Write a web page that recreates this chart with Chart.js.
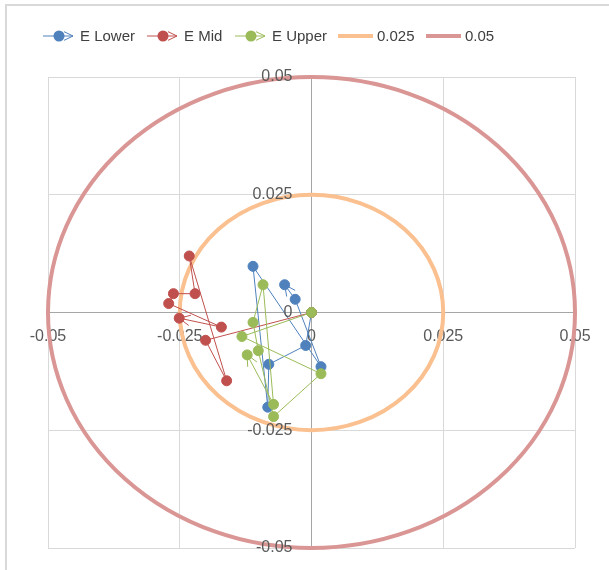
<!DOCTYPE html>
<html>
<head>
<meta charset="utf-8">
<script src="https://cdn.jsdelivr.net/npm/chart.js@4/dist/chart.umd.min.js"></script>
<style>
  html, body { margin: 0; padding: 0; background: #fff; }
  canvas { display: block; }
</style>
</head>
<body>
<canvas id="chart" width="609" height="570"></canvas>
<script>
"use strict";

// tick values shared by both axes
const axisTicks = [-0.05, -0.025, 0, 0.025, 0.05];

// E Lower
const lowerX = [0, -0.0011, -0.0081, -0.0083, -0.0111, 0.0018, -0.0031, -0.0051];
const lowerY = [0, -0.0070, -0.0110, -0.0201, 0.0098, -0.0115, 0.0028, 0.0059];
// E Mid
const midX = [0, -0.0201, -0.0161, -0.0232, -0.0221, -0.0262, -0.0271, -0.0171, -0.0251];
const midY = [0, -0.0059, -0.0145, 0.0120, 0.0040, 0.0040, 0.0019, -0.0031, -0.0012];
// E Upper
const upperX = [0, -0.0132, 0.0018, -0.0072, -0.0101, -0.0111, -0.0092, -0.0072, -0.0122];
const upperY = [0, -0.0051, -0.0130, -0.0221, -0.0081, -0.0021, 0.0059, -0.0195, -0.0090];

// reference rings
const ringLabels = ["0.025", "0.05"];
const ringRadii = [0.025, 0.05];

const seriesLabels = ["E Lower", "E Mid", "E Upper"];
const seriesColors = ["#4F81BD", "#C0504D", "#9BBB59"];
const ringColors = ["#FAC090", "#D99694"];

const FONT = '"Liberation Sans", Arial, sans-serif';

function toPoints(xs, ys) {
    return xs.map(function (x, i) { return { x: x, y: ys[i] }; });
}

function series(label, color, xs, ys, order) {
    return {
        label: label,
        data: toPoints(xs, ys),
        order: order, // later series are painted on top, as in the original
        showLine: true,
        borderColor: color,
        backgroundColor: color,
        borderWidth: 1,
        pointRadius: 5,
        pointBorderWidth: 1,
        pointBorderColor: color,
        pointBackgroundColor: color,
        pointHoverRadius: 5
    };
}

// circles of constant radius, drawn through the scales under the series
const ringsPlugin = {
    id: "rings",
    beforeDatasetsDraw: function (chart) {
        const ctx = chart.ctx;
        const xs = chart.scales.x, ys = chart.scales.y;
        const cx = xs.getPixelForValue(0), cy = ys.getPixelForValue(0);
        ctx.save();
        ringRadii.forEach(function (r, i) {
            const rx = xs.getPixelForValue(r) - cx;
            const ry = cy - ys.getPixelForValue(r);
            ctx.beginPath();
            ctx.ellipse(cx, cy, rx, ry, 0, 0, Math.PI * 2);
            ctx.strokeStyle = ringColors[i];
            ctx.lineWidth = 4;
            ctx.stroke();
        });
        ctx.restore();
    }
};

function drawArrow(ctx, tipX, tipY, ang, len, spread) {
    ctx.beginPath();
    ctx.moveTo(tipX - len * Math.cos(ang - spread), tipY - len * Math.sin(ang - spread));
    ctx.lineTo(tipX, tipY);
    ctx.lineTo(tipX - len * Math.cos(ang + spread), tipY - len * Math.sin(ang + spread));
    ctx.stroke();
}

// open arrow head at the end of every series line
const arrowPlugin = {
    id: "arrows",
    afterDatasetsDraw: function (chart) {
        const ctx = chart.ctx;
        ctx.save();
        chart.data.datasets.forEach(function (ds, i) {
            const pts = chart.getDatasetMeta(i).data;
            if (pts.length < 2) return;
            const a = pts[pts.length - 2], b = pts[pts.length - 1];
            const ang = Math.atan2(b.y - a.y, b.x - a.x);
            ctx.strokeStyle = ds.borderColor;
            ctx.lineWidth = 1;
            drawArrow(ctx, b.x, b.y, ang, 12, 0.45);
        });

        // y tick labels sit left of the vertical axis, which crosses at x = 0
        const xs = chart.scales.x, ys = chart.scales.y;
        const right = xs.getPixelForValue(0) - 19;
        ctx.font = "16px " + FONT;
        ctx.fillStyle = "#595959";
        ctx.textAlign = "right";
        ctx.textBaseline = "middle";
        ys.ticks.forEach(function (t) {
            ctx.fillText(String(t.value), right, ys.getPixelForValue(t.value));
        });
        ctx.restore();
    }
};

// legend in the style of the original, plus the outer frame
const legendPlugin = {
    id: "customLegend",
    afterDraw: function (chart) {
        const ctx = chart.ctx;
        const y = 36;
        ctx.save();
        ctx.strokeStyle = "#D9D9D9";
        ctx.lineWidth = 2;
        ctx.beginPath();
        ctx.moveTo(6, 570);
        ctx.lineTo(6, 5);
        ctx.lineTo(609, 5);
        ctx.stroke();

        ctx.font = "15px " + FONT;
        ctx.textBaseline = "middle";
        ctx.textAlign = "left";

        const seriesStart = [43, 147, 235];
        seriesLabels.forEach(function (label, i) {
            const x0 = seriesStart[i], x1 = x0 + 30;
            ctx.strokeStyle = seriesColors[i];
            ctx.fillStyle = seriesColors[i];
            ctx.lineWidth = 1;
            ctx.beginPath();
            ctx.moveTo(x0, y);
            ctx.lineTo(x1, y);
            ctx.stroke();
            ctx.beginPath();
            ctx.arc(x0 + 16, y, 5.5, 0, Math.PI * 2);
            ctx.fill();
            drawArrow(ctx, x1, y, 0, 10, 0.45);
            ctx.fillStyle = "#404040";
            ctx.fillText(label, x1 + 7, y + 1);
        });

        const ringStart = [338, 426];
        ringLabels.forEach(function (label, i) {
            const x0 = ringStart[i], x1 = x0 + 35;
            ctx.strokeStyle = ringColors[i];
            ctx.lineWidth = 4;
            ctx.beginPath();
            ctx.moveTo(x0, y);
            ctx.lineTo(x1, y);
            ctx.stroke();
            ctx.fillStyle = "#404040";
            ctx.fillText(label, x1 + 4, y + 1);
        });
        ctx.restore();
    }
};

function setTicks(scale) {
    scale.ticks = axisTicks.map(function (v) { return { value: v }; });
}

const gridOpts = {
    color: function (c) { return c.tick && c.tick.value === 0 ? "rgba(0,0,0,0)" : "#D9D9D9"; },
    lineWidth: 1,
    drawTicks: false
};

const labelFont = { family: FONT, size: 16 };

new Chart(document.getElementById("chart"), {
    type: "scatter",
    data: {
        datasets: [
            series(seriesLabels[0], seriesColors[0], lowerX, lowerY, 3),
            series(seriesLabels[1], seriesColors[1], midX, midY, 2),
            series(seriesLabels[2], seriesColors[2], upperX, upperY, 1)
        ]
    },
    options: {
        responsive: false,
        animation: false,
        events: [],
        layout: { autoPadding: false, padding: { left: 48, right: 34, top: 77, bottom: 22 } },
        plugins: {
            legend: { display: false },
            tooltip: { enabled: false }
        },
        scales: {
            x: {
                type: "linear", min: -0.05, max: 0.05,
                position: { y: 0 },
                afterBuildTicks: setTicks,
                grid: gridOpts,
                border: { color: "#A6A6A6", width: 1 },
                ticks: { display: false }
            },
            y: {
                type: "linear", min: -0.05, max: 0.05,
                position: { x: 0 },
                afterBuildTicks: setTicks,
                grid: gridOpts,
                border: { color: "#A6A6A6", width: 1 },
                ticks: { display: false }
            },
            // label-only copy of the x axis drawn above the rings
            x2: {
                type: "linear", min: -0.05, max: 0.05,
                position: { y: 0 },
                z: 1,
                afterBuildTicks: setTicks,
                grid: { display: false, drawTicks: false },
                border: { display: false },
                ticks: {
                    font: labelFont, color: "#595959", padding: 14,
                    maxRotation: 0,
                    callback: function (v) { return String(v); }
                }
            }
        }
    },
    plugins: [ringsPlugin, arrowPlugin, legendPlugin]
});
</script>
</body>
</html>
